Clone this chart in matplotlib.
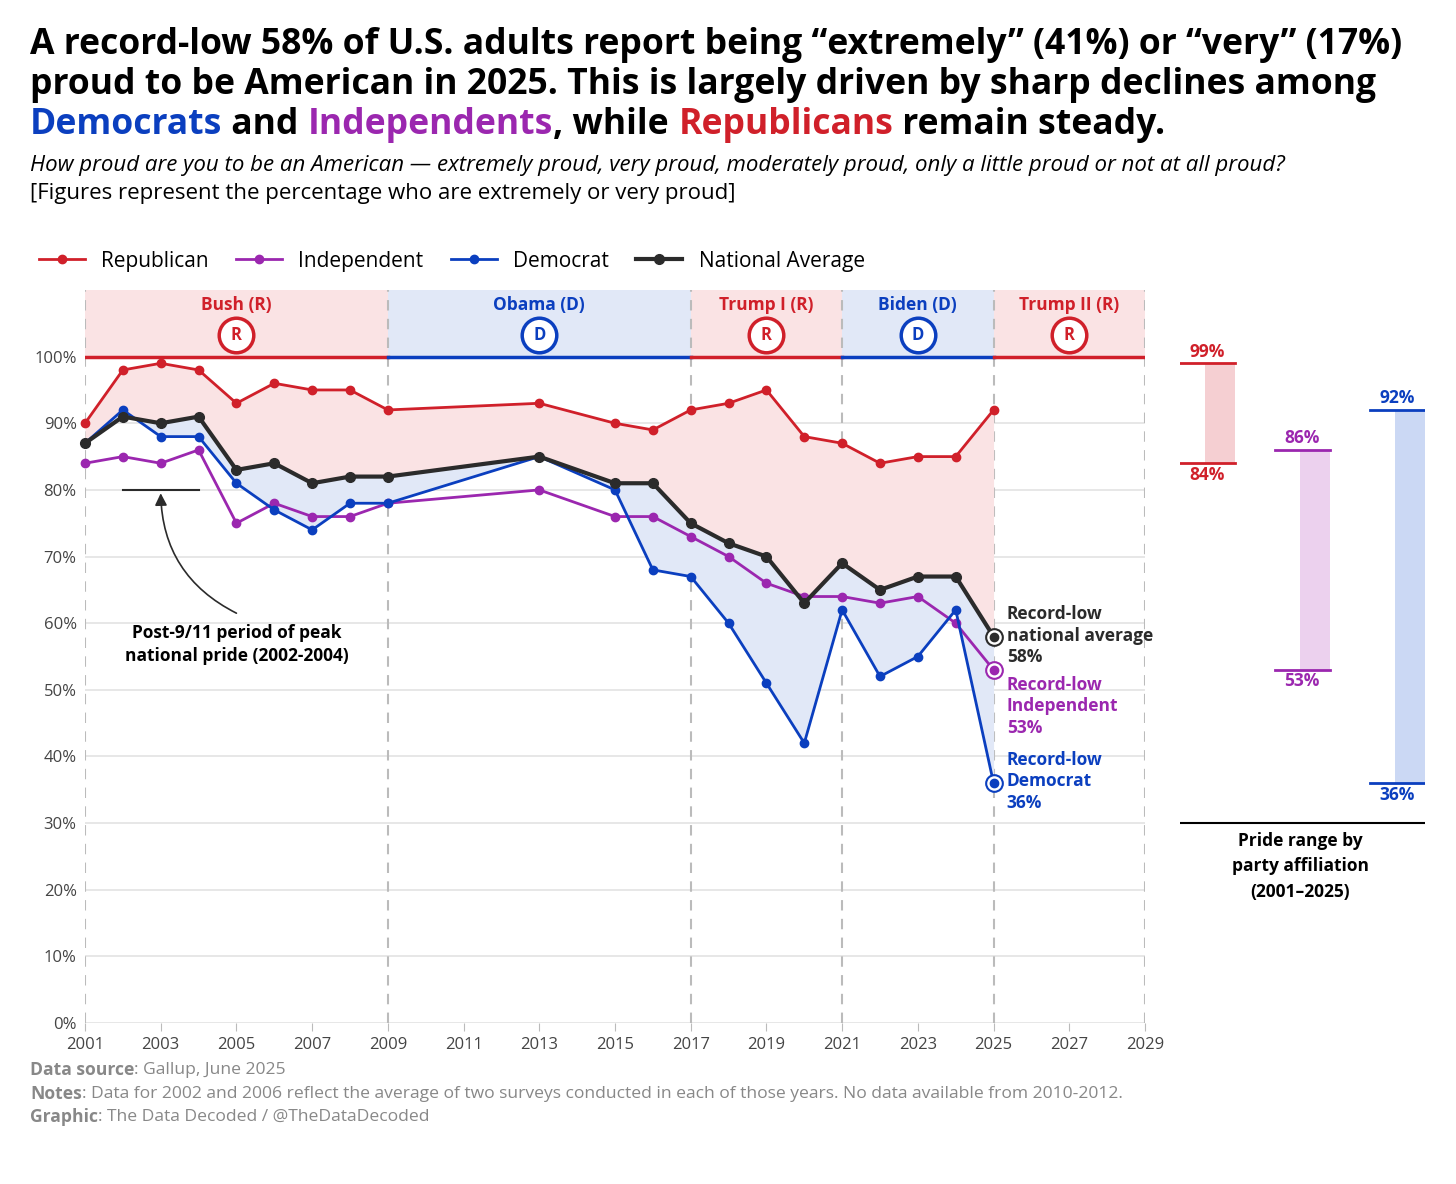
import matplotlib
matplotlib.use("Agg")
import matplotlib.pyplot as plt

plt.rcParams['font.family'] = ['Open Sans', 'DejaVu Sans']

years = [2001, 2002, 2003, 2004, 2005, 2006, 2007, 2008, 2009, 2013, 2015, 2016,
         2017, 2018, 2019, 2020, 2021, 2022, 2023, 2024, 2025]
rep = [90, 98, 99, 98, 93, 96, 95, 95, 92, 93, 90, 89, 92, 93, 95, 88, 87, 84, 85, 85, 92]
ind = [84, 85, 84, 86, 75, 78, 76, 76, 78, 80, 76, 76, 73, 70, 66, 64, 64, 63, 64, 60, 53]
dem = [87, 92, 88, 88, 81, 77, 74, 78, 78, 85, 80, 68, 67, 60, 51, 42, 62, 52, 55, 62, 36]
nat = [87, 91, 90, 91, 83, 84, 81, 82, 82, 85, 81, 81, 75, 72, 70, 63, 69, 65, 67, 67, 58]

terms = [("Bush (R)", 2001, 2009, "R"), ("Obama (D)", 2009, 2017, "D"),
         ("Trump I (R)", 2017, 2021, "R"), ("Biden (D)", 2021, 2025, "D"),
         ("Trump II (R)", 2025, 2029, "R")]

RED = "#d0202a"; PURPLE = "#9b27af"; BLUE = "#0b3fbf"; DARK = "#2b2b2b"
PINK = "#fae3e4"; LBLUE = "#e1e8f7"

fig = plt.figure(figsize=(14.56, 11.84), dpi=100)
ax = fig.add_axes([85/1456, 161/1184, 1060/1456, 733/1184])
ax.set_xlim(2001, 2029)
ax.set_ylim(0, 110)

for name, a, b, p in terms:
    col = RED if p == "R" else BLUE
    ax.fill_between([a, b], 100, 110, color=PINK if p == "R" else LBLUE, lw=0, zorder=0)
    ax.plot([a, b], [100, 100], color=col, lw=2.5, zorder=3)
    ax.text((a + b) / 2, 107.7, name, ha="center", va="center", color=col,
            fontsize=12.5, fontweight="bold")
    xc = (a + b) / 2
    ax.scatter([xc], [103.2], s=620, facecolor="white", edgecolor=col, lw=2.5, zorder=4)
    ax.text(xc, 103.2, p, ha="center", va="center", color=col, fontsize=12,
            fontweight="bold", zorder=5)
for x in [2001, 2009, 2017, 2021, 2025, 2029]:
    ax.axvline(x, color="#bbbbbb", ls=(0, (5, 4)), lw=1.5, zorder=1)

for y in range(0, 101, 10):
    ax.axhline(y, color="#e3e3e3", lw=1.2, zorder=0.5)

ax.fill_between(years, rep, nat, color=PINK, lw=0, zorder=1)
ax.fill_between(years, nat, dem, color=LBLUE, lw=0, zorder=1)

ax.plot(years, rep, color=RED, lw=2, marker="o", ms=6, zorder=5, label="Republican", clip_on=False)
ax.plot(years, ind, color=PURPLE, lw=2, marker="o", ms=6, zorder=5, label="Independent", clip_on=False)
ax.plot(years, dem, color=BLUE, lw=2, marker="o", ms=6, zorder=5, label="Democrat", clip_on=False)
ax.plot(years, nat, color=DARK, lw=3, marker="o", ms=7, zorder=6, label="National Average", clip_on=False)

for v, c in [(nat[-1], DARK), (ind[-1], PURPLE), (dem[-1], BLUE)]:
    ax.plot([2025], [v], marker="o", ms=12, mfc="white", mec=c, mew=1.5, zorder=7)
    ax.plot([2025], [v], marker="o", ms=6, color=c, zorder=8)

ax.text(2025.35, 58.1, "Record-low\nnational average\n58%", color=DARK, fontsize=12.5,
        fontweight="bold", va="center", linespacing=1.25)
ax.text(2025.35, 47.5, "Record-low\nIndependent\n53%", color=PURPLE, fontsize=12.5,
        fontweight="bold", va="center", linespacing=1.25)
ax.text(2025.35, 36.3, "Record-low\nDemocrat\n36%", color=BLUE, fontsize=12.5,
        fontweight="bold", va="center", linespacing=1.25)

ax.plot([2002, 2004], [80, 80], color=DARK, lw=1.5)
ax.text(2005, 56.8, "Post-9/11 period of peak\nnational pride (2002-2004)", ha="center",
        va="center", fontsize=12.5, fontweight="bold", color="black", linespacing=1.3)
ax.annotate("", xy=(2003, 79.5), xytext=(2005, 61.5),
            arrowprops=dict(arrowstyle="-|>", color=DARK, lw=1.2, mutation_scale=18,
                            connectionstyle="arc3,rad=-0.3", shrinkA=0, shrinkB=0))

ax.set_yticks(range(0, 101, 10))
ax.set_yticklabels([f"{v}%" for v in range(0, 101, 10)], fontsize=12, color="#444444")
ax.set_xticks(range(2001, 2030, 2))
ax.set_xticklabels([str(v) for v in range(2001, 2030, 2)], fontsize=12, color="#444444")
ax.tick_params(length=0, pad=6)
ax.tick_params(axis="x", length=6, color="#bbbbbb", pad=4)
for s in ax.spines.values():
    s.set_visible(False)

fig.legend(loc="upper left", bbox_to_anchor=(20/1456, 1 - 232/1184), ncol=4,
           frameon=False, fontsize=15, handlelength=2.2, columnspacing=1.3,
           handletextpad=0.8)

ax2 = fig.add_axes([1180/1456, 161/1184, 245/1456, 733/1184])
ax2.set_xlim(0, 245)
ax2.set_ylim(0, 110)
ax2.axis("off")
ranges = [(RED, "#f5cfd2", 84, 99, 25), (PURPLE, "#ecd1ee", 53, 86, 120), (BLUE, "#cbd8f4", 36, 92, 215)]
for col, fc, lo, hi, x0 in ranges:
    ax2.bar(x0 + 15, hi - lo, bottom=lo, width=30, color=fc, lw=0)
    ax2.plot([x0 - 25, x0 + 30], [hi, hi], color=col, lw=2)
    ax2.plot([x0 - 25, x0 + 30], [lo, lo], color=col, lw=2)
    ax2.text(x0 + 2, hi + 0.4, f"{hi}%", color=col, fontsize=12.5, fontweight="bold",
             ha="center", va="bottom")
    ax2.text(x0 + 2, lo - 0.4, f"{lo}%", color=col, fontsize=12.5, fontweight="bold",
             ha="center", va="top")
ax2.plot([0, 245], [30, 30], color="black", lw=1.5)
ax2.text(120, 28.7, "Pride range by\nparty affiliation\n(2001\u20132025)", ha="center", va="top",
         fontsize=12.5, fontweight="bold", linespacing=1.55)

tfs = 25.6
fig.text(30/1456, 1 - 45/1184, "A record-low 58% of U.S. adults report being \u201cextremely\u201d (41%) or \u201cvery\u201d (17%)",
         fontsize=tfs, fontweight="bold", va="center")
fig.text(30/1456, 1 - 85/1184, "proud to be American in 2025. This is largely driven by sharp declines among",
         fontsize=tfs, fontweight="bold", va="center")
fig.canvas.draw()
r = fig.canvas.get_renderer()
x = 30
for txt, c in [("Democrats", BLUE), (" and ", "black"), ("Independents", PURPLE),
               (", while ", "black"), ("Republicans", RED), (" remain steady.", "black")]:
    t = fig.text(x / 1456, 1 - 125/1184, txt, fontsize=tfs, fontweight="bold", va="center", color=c)
    x += t.get_window_extent(r).width
fig.text(30/1456, 1 - 166/1184,
         "How proud are you to be an American \u2014 extremely proud, very proud, moderately proud, only a little proud or not at all proud?",
         fontsize=16, style="italic", va="center")
fig.text(30/1456, 1 - 193/1184, "[Figures represent the percentage who are extremely or very proud]",
         fontsize=16, va="center")

fy = [1070, 1094, 1117]
foot = [("Data source", ": Gallup, June 2025"),
        ("Notes", ": Data for 2002 and 2006 reflect the average of two surveys conducted in each of those years. No data available from 2010-2012."),
        ("Graphic", ": The Data Decoded / @TheDataDecoded")]
for y, (b, rest) in zip(fy, foot):
    t = fig.text(30/1456, 1 - y/1184, b, fontsize=12.6, fontweight="bold", color="#888888", va="center")
    w = t.get_window_extent(r).width
    fig.text((30 + w)/1456, 1 - y/1184, rest, fontsize=12.6, color="#888888", va="center")

fig.savefig("out.png", dpi=100)
